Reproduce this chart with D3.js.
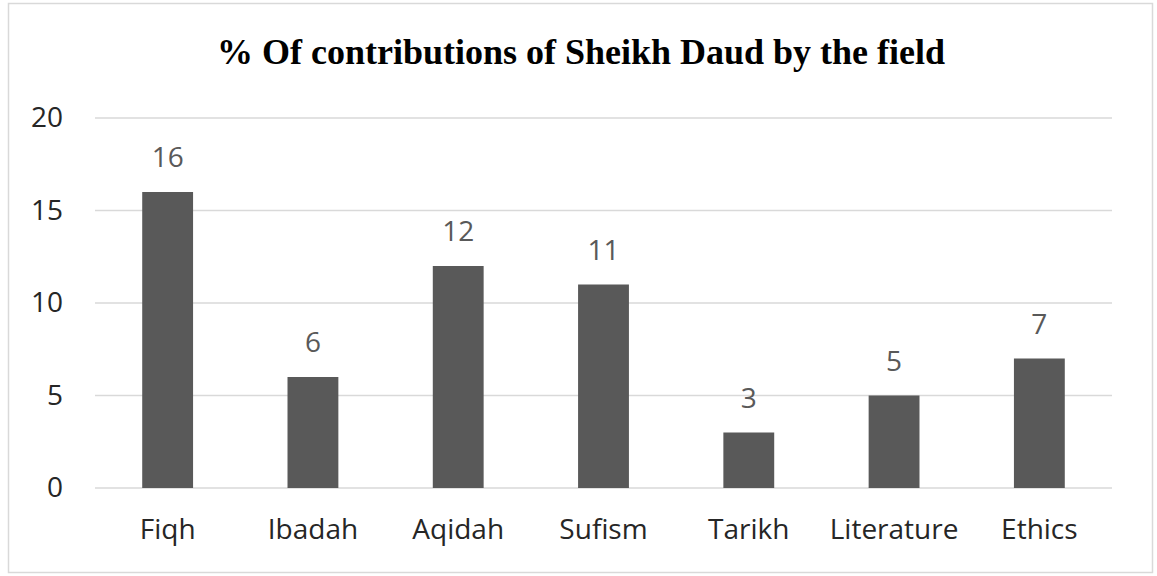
<!DOCTYPE html>
<html>
<head>
<meta charset="utf-8">
<script src="https://cdn.jsdelivr.net/npm/d3@7"></script>
<style>
  body { margin: 0; background: #fff; }
  svg { display: block; }
</style>
</head>
<body>
<div id="chart"></div>
<script>
// data
var fields = ['Fiqh', 'Ibadah', 'Aqidah', 'Sufism', 'Tarikh', 'Literature', 'Ethics'];
var contributions = [16, 6, 12, 11, 3, 5, 7];
var yTicks = [0, 5, 10, 15, 20];
var chartTitle = '% Of contributions of Sheikh Daud by the field';

var width = 1157, height = 576;
var margin = {top: 118, right: 45, bottom: 88, left: 95};
var labelFont = '"Open Sans", Lato, sans-serif';

var svg = d3.select('#chart').append('svg')
    .attr('width', width)
    .attr('height', height);

// outer frame
svg.append('rect')
    .attr('x', 8.5).attr('y', 3.5)
    .attr('width', 1144).attr('height', 569)
    .style('fill', '#fff')
    .style('stroke', '#d9d9d9')
    .style('stroke-width', 1.5);

var x = d3.scaleBand()
    .domain(fields)
    .range([margin.left, width - margin.right])
    .paddingInner(0.65)
    .paddingOuter(0.325);

var y = d3.scaleLinear()
    .domain([0, 20])
    .range([height - margin.bottom, margin.top]);

// title
svg.append('text')
    .attr('x', 581)
    .attr('y', 64)
    .attr('text-anchor', 'middle')
    .style('font-family', '"Liberation Serif", "Times New Roman", serif')
    .style('font-weight', 'bold')
    .style('font-size', '36px')
    .style('fill', '#000')
    .text(chartTitle);

// gridlines
svg.append('g').selectAll('line').data(yTicks).enter().append('line')
    .attr('x1', margin.left)
    .attr('x2', width - margin.right)
    .attr('y1', function(d) { return y(d); })
    .attr('y2', function(d) { return y(d); })
    .style('stroke', '#d9d9d9')
    .style('stroke-width', 1.5);

// y axis labels
var yAxis = d3.axisLeft(y).tickValues(yTicks).tickSize(0).tickPadding(32);
var gy = svg.append('g')
    .attr('transform', 'translate(' + margin.left + ',0)')
    .call(yAxis);
gy.select('.domain').remove();
gy.selectAll('text')
    .style('font-family', labelFont)
    .style('font-size', '28px')
    .style('fill', '#262626');

// x axis labels
var xAxis = d3.axisBottom(x).tickSize(0).tickPadding(31);
var gx = svg.append('g')
    .attr('transform', 'translate(0,' + y(0) + ')')
    .call(xAxis);
gx.select('.domain').remove();
gx.selectAll('text')
    .style('font-family', labelFont)
    .style('font-size', '28px')
    .style('fill', '#262626');

// bars
svg.append('g').selectAll('rect').data(contributions).enter().append('rect')
    .attr('x', function(d, i) { return x(fields[i]); })
    .attr('y', function(d) { return y(d); })
    .attr('width', x.bandwidth())
    .attr('height', function(d) { return y(0) - y(d); })
    .style('fill', '#595959');

// value labels
svg.append('g').selectAll('text').data(contributions).enter().append('text')
    .attr('x', function(d, i) { return x(fields[i]) + x.bandwidth() / 2; })
    .attr('y', function(d) { return y(d) - 25; })
    .attr('text-anchor', 'middle')
    .style('font-family', labelFont)
    .style('font-size', '28px')
    .style('fill', '#595959')
    .text(function(d) { return d; });
</script>
</body>
</html>
